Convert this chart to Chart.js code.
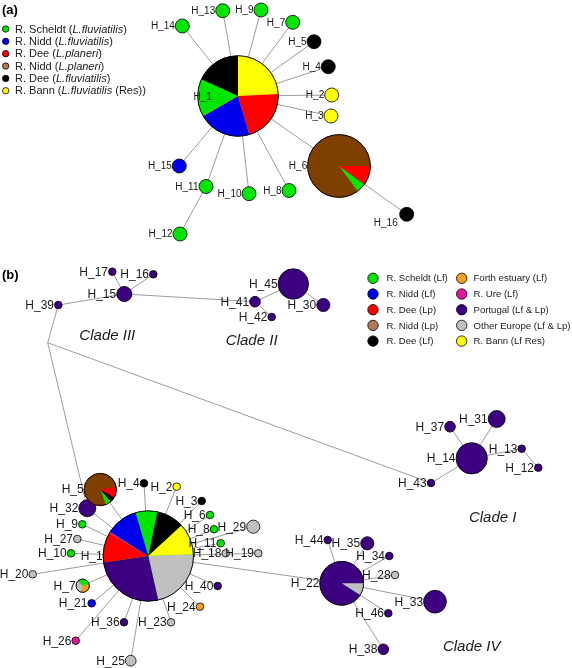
<!DOCTYPE html>
<html>
<head>
<meta charset="utf-8">
<script src="https://cdn.jsdelivr.net/npm/chart.js@4.4.1/dist/chart.umd.min.js"></script>
<style>
  html, body { margin: 0; padding: 0; background: #fff; }
  #wrap { width: 572px; height: 668px; }
</style>
</head>
<body>
<div id="wrap"><canvas id="net"></canvas></div>
<script>
// populations (legend b order) and their colours
const popNames = ['R. Scheldt (Lf)', 'R. Nidd (Lf)', 'R. Dee (Lp)', 'R. Nidd (Lp)', 'R. Dee (Lf)',
  'Forth estuary (Lf)', 'R. Ure (Lf)', 'Portugal (Lf & Lp)', 'Other Europe (Lf & Lp)', 'R. Bann (Lf Res)'];
const popColors = ['#00e600', '#0000f0', '#ff0000', '#7f3f00', '#000000',
  '#f5a01e', '#e0189a', '#3d0080', '#c0c0c0', '#ffff00'];

// legend (a): *...* is italic
const legendANames = ['R. Scheldt (*L.fluviatilis*)', 'R. Nidd (*L.fluviatilis*)', 'R. Dee (*L.planeri*)',
  'R. Nidd (*L.planeri*)', 'R. Dee (*L.fluviatilis*)', 'R. Bann (*L.fluviatilis* (Res))'];
const legendAPops = [0, 1, 2, 3, 4, 9];

// panel (a) haplotypes: [population, count]
const hapA = ['H_1', 'H_14', 'H_13', 'H_9', 'H_7', 'H_5', 'H_4', 'H_2', 'H_3', 'H_6', 'H_16', 'H_8', 'H_10', 'H_11', 'H_12', 'H_15'];
const freqA = [
  [[9, 8], [2, 7], [1, 7], [0, 5], [4, 6]],
  [[0, 1]], [[0, 1]], [[0, 1]], [[0, 1]], [[4, 1]], [[4, 1]], [[9, 1]], [[9, 1]],
  [[2, 2], [0, 1], [3, 17]],
  [[4, 1]], [[0, 1]], [[0, 1]], [[0, 1]], [[0, 1]], [[1, 1]]
];
const linksA = [['H_1', 'H_14'], ['H_1', 'H_13'], ['H_1', 'H_9'], ['H_1', 'H_7'], ['H_1', 'H_5'], ['H_1', 'H_4'],
  ['H_1', 'H_2'], ['H_1', 'H_3'], ['H_1', 'H_6'], ['H_1', 'H_8'], ['H_1', 'H_10'], ['H_1', 'H_11'], ['H_1', 'H_15'],
  ['H_11', 'H_12'], ['H_6', 'H_16']];

// panel (b) haplotypes ('mv' = unsampled median vector)
const hapB = ['H_17', 'H_16', 'H_15', 'H_39', 'H_41', 'H_42', 'H_45', 'H_30', 'mv',
  'H_5', 'H_32', 'H_4', 'H_2', 'H_3', 'H_6', 'H_8', 'H_29', 'H_11', 'H_18', 'H_19', 'H_9', 'H_27', 'H_10',
  'H_1', 'H_20', 'H_7', 'H_21', 'H_36', 'H_26', 'H_25', 'H_23', 'H_24', 'H_40',
  'H_22', 'H_44', 'H_35', 'H_34', 'H_28', 'H_33', 'H_46', 'H_38',
  'H_14', 'H_37', 'H_31', 'H_13', 'H_12', 'H_43'];
const freqB = [
  [[7, 1]], [[7, 1]], [[7, 4]], [[7, 1]], [[7, 2]], [[7, 1]], [[7, 16]], [[7, 3]], [],
  [[2, 2], [4, 1], [0, 1], [3, 14]],
  [[7, 5]], [[4, 1]], [[9, 1]], [[4, 1]], [[0, 1]], [[0, 1]], [[8, 3]], [[0, 1]], [[8, 1]], [[8, 1]],
  [[0, 1]], [[8, 1]], [[0, 1]],
  [[0, 11], [4, 14], [9, 16], [8, 31], [7, 37], [2, 15], [6, 1], [1, 16]],
  [[8, 1]], [[0, 1], [5, 1], [8, 1]], [[1, 1]], [[7, 1]], [[6, 1]], [[8, 2]], [[8, 1]], [[5, 1]], [[7, 1]],
  [[8, 3], [7, 30]],
  [[7, 1]], [[7, 3]], [[7, 1]], [[8, 1]], [[7, 9]], [[7, 1]], [[7, 2]],
  [[7, 17]], [[7, 2]], [[7, 5]], [[7, 1]], [[7, 1]], [[7, 1]]
];
const linksB = [['H_39', 'H_15'], ['H_15', 'H_17'], ['H_15', 'H_16'], ['H_15', 'H_41'], ['H_41', 'H_45'],
  ['H_41', 'H_42'], ['H_45', 'H_30'], ['H_39', 'mv'], ['mv', 'H_43'], ['mv', 'H_32'],
  ['H_43', 'H_14'], ['H_14', 'H_37'], ['H_14', 'H_31'], ['H_14', 'H_13'], ['H_13', 'H_12'],
  ['H_1', 'H_5'], ['H_1', 'H_32'], ['H_1', 'H_4'], ['H_1', 'H_2'], ['H_1', 'H_3'], ['H_1', 'H_6'], ['H_1', 'H_8'],
  ['H_1', 'H_29'], ['H_1', 'H_11'], ['H_1', 'H_19'], ['H_1', 'H_9'], ['H_1', 'H_27'], ['H_1', 'H_10'],
  ['H_1', 'H_20'], ['H_1', 'H_7'], ['H_1', 'H_21'], ['H_1', 'H_26'], ['H_1', 'H_36'], ['H_1', 'H_25'],
  ['H_1', 'H_23'], ['H_1', 'H_24'], ['H_1', 'H_40'], ['H_1', 'H_22'],
  ['H_22', 'H_44'], ['H_22', 'H_35'], ['H_22', 'H_34'], ['H_22', 'H_28'], ['H_22', 'H_33'],
  ['H_22', 'H_46'], ['H_22', 'H_38']];

const cladeNames = ['Clade I', 'Clade II', 'Clade III', 'Clade IV'];

// ---- layout (network coordinates, same units as the axes) ----
const posA = [[238, 96], [182.3, 26], [222.7, 10.7], [261, 10], [292.7, 22.3], [314, 41.7], [328.3, 66.7],
  [331.7, 95], [331, 116], [339, 166], [406.7, 214.3], [289, 190.5], [249, 193.7], [206, 186.5], [180, 234], [179.3, 166]];
const posB = [[112.3, 271.7], [153.3, 274.3], [124.3, 294], [58.3, 305], [255, 301.7], [271.7, 317], [293.3, 284],
  [323.3, 305], [47.7, 342.7],
  [100.3, 489.5], [87.3, 508.3], [144, 483.3], [176.7, 486.7], [201.7, 501], [210, 515], [214, 529.3],
  [253.3, 526.7], [220.7, 543.3], [225.7, 553.3], [258.3, 553.3], [82.3, 524.3], [77.3, 539], [71, 553.3],
  [148.3, 556], [32.7, 574.3], [82.7, 585.7], [91.7, 603.3], [124, 622.3], [75.7, 640.7], [130.7, 660.7],
  [171, 622.3], [200, 606.7], [217.7, 586],
  [341.7, 583.3], [327.7, 540], [367.3, 543.3], [389.3, 556], [395, 575], [435, 601.7], [388.3, 613.3], [383.3, 649.3],
  [471.7, 458.3], [450, 426.7], [496.7, 419], [521.7, 448.7], [538.3, 467.7], [431, 483]];
const cladePos = [[492.7, 518.3], [251.7, 340.5], [107.3, 336], [471.7, 646.7]];
const pieStart = { 'a:H_1': 0, 'a:H_6': 90, 'b:H_5': 80, 'b:H_7': -45, 'b:H_1': -16.5, 'b:H_22': 90 };
const labelNudge = { 'a:H_1': [14.5, 0.5], 'a:H_16': [-1.5, 8] };
const scaleK = { a: 7, b: 3.8 };
const FONT = '"Liberation Sans", Arial, sans-serif';

const nodes = [
  ...hapA.map((h, i) => ({ panel: 'a', id: h, freq: freqA[i], x: posA[i][0], y: posA[i][1] })),
  ...hapB.map((h, i) => ({ panel: 'b', id: h, freq: freqB[i], x: posB[i][0], y: posB[i][1] }))
];

function total(f) { return f.reduce((s, p) => s + p[1], 0); }
function radiusOf(n) { return scaleK[n.panel] * Math.sqrt(total(n.freq)); }
function findNode(panel, id) { return nodes.find(n => n.panel === panel && n.id === id); }

function linkSets(panel, links) {
  return links.map(([s, t]) => {
    const a = findNode(panel, s), b = findNode(panel, t);
    return {
      data: [{ x: a.x, y: a.y }, { x: b.x, y: b.y }],
      showLine: true, borderColor: '#9c9c9c', borderWidth: 1,
      pointRadius: 0, pointHoverRadius: 0, order: 1
    };
  });
}

function drawMixed(ctx, str, x, y, size) {
  str.split('*').forEach((part, i) => {
    ctx.font = (i % 2 ? 'italic ' : '') + size + 'px ' + FONT;
    ctx.fillText(part, x, y);
    x += ctx.measureText(part).width;
  });
}

function dot(ctx, x, y, r, color) {
  ctx.beginPath();
  ctx.arc(x, y, r, 0, 2 * Math.PI);
  ctx.fillStyle = color;
  ctx.fill();
  ctx.lineWidth = 0.8;
  ctx.strokeStyle = '#000';
  ctx.stroke();
}

const overlay = {
  id: 'overlay',
  afterDatasetsDraw(chart) {
    const ctx = chart.ctx, xs = chart.scales.x, ys = chart.scales.y;
    ctx.save();

    // pie haplotypes
    nodes.forEach(n => {
      if (n.freq.length < 2) return;
      const cx = xs.getPixelForValue(n.x), cy = ys.getPixelForValue(n.y), r = radiusOf(n);
      const tot = total(n.freq);
      let a = ((pieStart[n.panel + ':' + n.id] || 0) - 90) * Math.PI / 180;
      n.freq.forEach(([p, c]) => {
        const b = a + c / tot * 2 * Math.PI;
        ctx.beginPath();
        ctx.moveTo(cx, cy);
        ctx.arc(cx, cy, r, a, b);
        ctx.closePath();
        ctx.fillStyle = popColors[p];
        ctx.fill();
        a = b;
      });
      ctx.beginPath();
      ctx.arc(cx, cy, r, 0, 2 * Math.PI);
      ctx.lineWidth = 0.8;
      ctx.strokeStyle = '#000';
      ctx.stroke();
    });

    // haplotype labels
    ctx.fillStyle = '#1a1a1a';
    ctx.textAlign = 'right';
    ctx.textBaseline = 'middle';
    nodes.forEach(n => {
      if (!total(n.freq)) return;
      const cx = xs.getPixelForValue(n.x), cy = ys.getPixelForValue(n.y), r = radiusOf(n);
      const nd = labelNudge[n.panel + ':' + n.id] || [0, 0];
      ctx.font = (n.panel === 'a' ? 10 : 12) + 'px ' + FONT;
      ctx.fillText(n.id, cx - r - 0.5 + nd[0], cy + 0.5 + nd[1]);
    });

    // clade names
    ctx.textAlign = 'center';
    ctx.font = 'italic 15px ' + FONT;
    cladeNames.forEach((c, i) => ctx.fillText(c, xs.getPixelForValue(cladePos[i][0]), ys.getPixelForValue(cladePos[i][1])));

    // panel tags
    ctx.textAlign = 'left';
    ctx.font = 'bold 13px ' + FONT;
    ctx.fillStyle = '#000';
    ctx.fillText('(a)', 2, 10);
    ctx.fillText('(b)', 2, 275);

    // legend (a)
    const swatch = popColors.slice();
    swatch[3] = '#ad7a5c';
    legendANames.forEach((s, i) => {
      const y = 29 + i * 12.35;
      dot(ctx, 5.7, y, 3.2, swatch[legendAPops[i]]);
      ctx.fillStyle = '#1a1a1a';
      drawMixed(ctx, s, 15, y + 0.5, 11);
    });

    // legend (b), two columns of five
    popNames.forEach((s, i) => {
      const col = Math.floor(i / 5), row = i % 5;
      const y = 278.3 + row * 15.7;
      dot(ctx, col ? 461.7 : 373, y, 5.2, swatch[i]);
      ctx.fillStyle = '#1a1a1a';
      ctx.font = '9.6px ' + FONT;
      ctx.fillText(s, col ? 473.5 : 386.5, y + 0.5);
    });

    ctx.restore();
  }
};

new Chart(document.getElementById('net'), {
  type: 'scatter',
  data: {
    datasets: [
      {
        data: nodes.map(n => ({ x: n.x, y: n.y })),
        pointRadius: nodes.map(radiusOf),
        pointHoverRadius: nodes.map(radiusOf),
        backgroundColor: nodes.map(n => n.freq.length ? popColors[n.freq[0][0]] : 'rgba(0,0,0,0)'),
        borderColor: nodes.map(n => total(n.freq) ? '#000' : 'rgba(0,0,0,0)'),
        borderWidth: 0.8,
        clip: false,
        order: 0
      },
      ...linkSets('a', linksA),
      ...linkSets('b', linksB)
    ]
  },
  options: {
    responsive: true,
    maintainAspectRatio: false,
    animation: false,
    events: [],
    layout: { padding: 0, autoPadding: false },
    plugins: { legend: { display: false }, tooltip: { enabled: false } },
    scales: {
      x: { type: 'linear', min: 0, max: 572, display: false },
      y: { type: 'linear', min: 0, max: 668, reverse: true, display: false }
    }
  },
  plugins: [overlay]
});
</script>
</body>
</html>
